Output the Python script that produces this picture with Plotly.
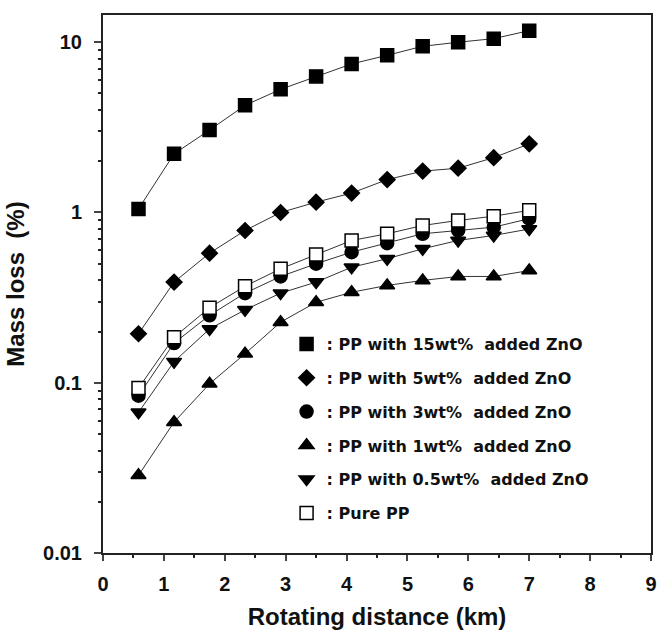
import plotly.graph_objects as go

distance_km = [0.583, 1.167, 1.75, 2.333, 2.917, 3.5, 4.083, 4.667, 5.25, 5.833, 6.417, 7.0]

zno_15 = [1.05, 2.21, 3.05, 4.26, 5.29, 6.3, 7.46, 8.38, 9.47, 10.0, 10.5, 11.7]
zno_5 = [0.194, 0.39, 0.577, 0.784, 1.0, 1.15, 1.30, 1.56, 1.75, 1.82, 2.1, 2.53]
zno_3 = [0.084, 0.171, 0.249, 0.336, 0.421, 0.50, 0.585, 0.66, 0.75, 0.784, 0.82, 0.92]
zno_1 = [0.0286, 0.0587, 0.0986, 0.148, 0.227, 0.297, 0.34, 0.373, 0.399, 0.421, 0.421, 0.456]
zno_05 = [0.067, 0.133, 0.207, 0.268, 0.336, 0.39, 0.477, 0.535, 0.612, 0.685, 0.733, 0.80]
pure_pp = [0.093, 0.185, 0.276, 0.369, 0.467, 0.567, 0.685, 0.75, 0.839, 0.898, 0.951, 1.03]

series = [
    (": PP with 15wt%  added ZnO", zno_15, "square", "black", 13),
    (": PP with 5wt%  added ZnO", zno_5, "diamond", "black", 12),
    (": PP with 3wt%  added ZnO", zno_3, "circle", "black", 13),
    (": PP with 1wt%  added ZnO", zno_1, "triangle-up", "black", 13),
    (": PP with 0.5wt%  added ZnO", zno_05, "triangle-down", "black", 13),
    (": Pure PP", pure_pp, "square", "white", 13),
]

x_ticks = list(range(0, 10))
y_ticks = [0.01, 0.1, 1, 10]
y_tick_labels = ["0.01", "0.1", "1", "10"]
y_minor = [m * d for d in (0.01, 0.1, 1) for m in range(2, 10)] + [m * 10 for m in range(2, 10)]

fig = go.Figure()
for i, (name, vals, sym, col, size) in enumerate(series):
    fig.add_trace(go.Scatter(
        x=distance_km, y=vals, mode="lines+markers", name=name,
        line=dict(color="#333", width=1),
        marker=dict(symbol=sym, size=size, color=col, line=dict(color="black", width=1.5)),
        showlegend=False,
    ))
for i, (name, vals, sym, col, size) in enumerate(series):
    fig.add_trace(go.Scatter(
        x=[None], y=[None], mode="markers", name=name, legendgroup=f"g{i}",
        marker=dict(symbol=sym, size=size, color=col, line=dict(color="black", width=1.5)),
        showlegend=True,
    ))

font_family = "Liberation Sans, Arial, sans-serif"
legend_family = "DejaVu Sans, sans-serif"
fig.update_layout(
    width=662, height=635,
    margin=dict(l=103, r=5, t=15, b=82),
    paper_bgcolor="white", plot_bgcolor="white",
    font=dict(family=font_family, color="#111"),
    showlegend=True,
    legend=dict(
        x=0.335, y=0.42, xanchor="left", yanchor="top",
        bgcolor="rgba(0,0,0,0)", tracegroupgap=10,
        font=dict(size=16, family=legend_family, color="#111", weight="bold"),
        itemsizing="trace",
    ),
    xaxis=dict(
        range=[0, 9], tickvals=x_ticks, ticks="outside", ticklen=6, tickwidth=1.5,
        showline=True, linecolor="#222", linewidth=2, mirror=True,
        showgrid=False, zeroline=False, ticklabelstandoff=6,
        minor=dict(dtick=0.5, ticks="outside", ticklen=3, tickcolor="#222", tickwidth=1.5),
        tickfont=dict(size=20, family=font_family, weight="bold"),
        title=dict(text="Rotating distance (km)", font=dict(size=24, family=font_family, weight="bold"), standoff=14),
    ),
    yaxis=dict(
        type="log", range=[-2, 1.16], tickvals=y_ticks, ticktext=y_tick_labels,
        ticks="outside", ticklen=7, tickwidth=1.5,
        showline=True, linecolor="#222", linewidth=2, mirror=True,
        showgrid=False, zeroline=False, ticklabelstandoff=8,
        minor=dict(tickvals=y_minor, ticks="outside", ticklen=3, tickcolor="#222", tickwidth=1.5, showgrid=False),
        tickfont=dict(size=20, family=font_family, weight="bold"),
        title=dict(text="Mass loss  (%)", font=dict(size=24, family=font_family, weight="bold"), standoff=12),
    ),
)

fig.write_html("out.html")
